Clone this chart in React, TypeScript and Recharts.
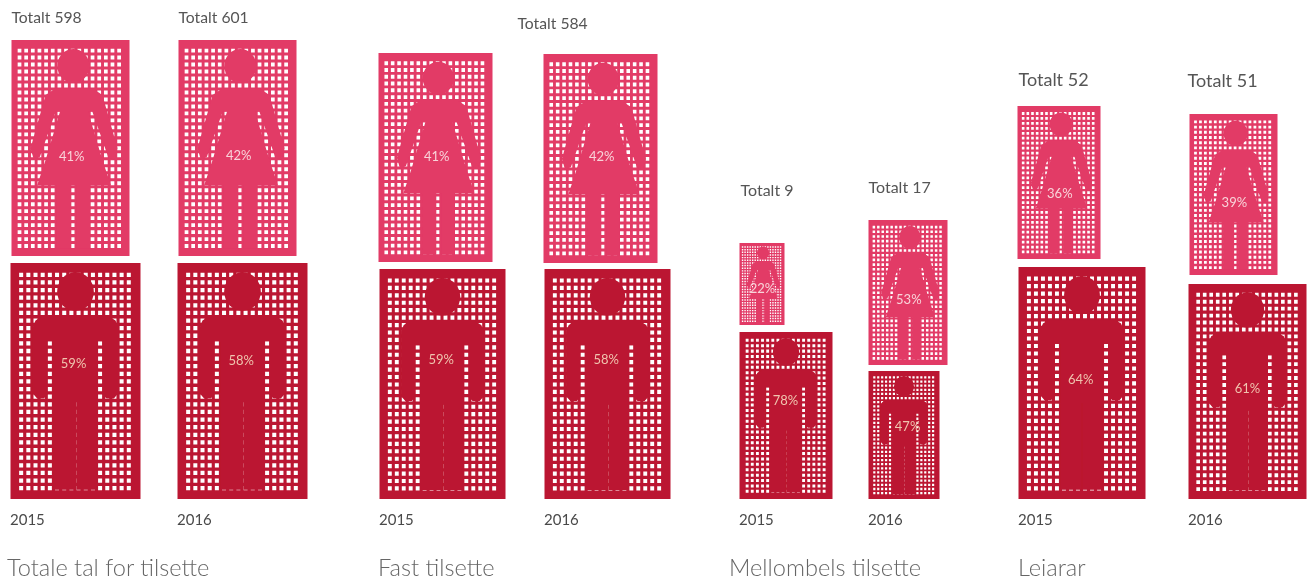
import { Bar, BarChart, XAxis, YAxis } from "recharts";

const FONT = "Lato, sans-serif";
const WOMAN_COLOR = "#e23a66";
const MAN_COLOR = "#bb1530";

// one entry per column
const groupTitles = ["Totale tal for tilsette", "Fast tilsette", "Mellombels tilsette", "Leiarar"];
const years = [2015, 2016, 2015, 2016, 2015, 2016, 2015, 2016];
const totals = [598, 601, null, 584, 9, 17, 52, 51];
const womenShare = [41, 42, 41, 42, 22, 53, 36, 39];
const menShare = [59, 58, 59, 58, 78, 47, 64, 61];
// size of the figures in the picture
const menHeight = [236, 236, 230, 230, 167, 128, 232, 215];
const womenHeight = [216, 216, 209, 209, 82, 145, 153, 161];
const stackGap = [7, 7, 7, 6, 7, 6, 8, 9];
const menWidth = [130, 130, 126, 126, 93, 71, 127, 118];
const womenWidth = [118, 118, 114, 114, 45, 79, 83, 88];

// layout
const columnLeft = [10, 177, 379, 544, 739, 868, 1018, 1188];
const womenShift = [1, 1, -1, -1, 0, 0, -1, 1];
const titleLeft = [7, 378, 729, 1018];
const womenLabelAt = [0.545, 0.54, 0.5, 0.495, 0.57, 0.56, 0.58, 0.56];
const menLabelAt = [0.43, 0.42, 0.4, 0.4, 0.42, 0.44, 0.49, 0.49];
const menLabelX = [0.485, 0.49, 0.49, 0.49, 0.495, 0.55, 0.49, 0.5];
const totalLift = [22, 22, 0, 30, 52, 32, 25, 32];
const totalShift = [0, 0, 0, -26, 1, 0, 1, -2];
const totalSize = [15.7, 15.7, 15.7, 15.7, 16, 16, 18, 18];

const chartData = years.map((year, i) => ({
  column: columnLeft[i],
  year,
  total: totals[i],
  women: womenHeight[i],
  men: menHeight[i],
  gap: stackGap[i],
}));

type Pt = [number, number];

// outlines
const womanBox = { ox: 33, oy: 120, w: 353, h: 648 };
const womanHead = { cx: 218, cy: 198, rx: 48, ry: 51 };
const womanBody: Pt[] = [
  [165, 265], [275, 265], [305, 285], [350, 445], [340, 480], [322, 470], [275, 335],
  [262, 335], [305, 480], [330, 555], [268, 555], [268, 745], [228, 745], [228, 555],
  [212, 555], [212, 745], [168, 745], [168, 555], [110, 555], [135, 480], [178, 335],
  [165, 335], [118, 470], [100, 480], [90, 445], [135, 285],
];

const manBox = { ox: 30, oy: 22, w: 390, h: 711 };
const manHead = { cx: 225, cy: 108, rx: 55, ry: 58 };
const manBody: Pt[] = [
  [122, 185], [328, 185], [345, 195], [353, 215], [353, 415], [340, 430], [318, 430], [306, 418],
  [306, 258], [288, 258], [288, 705], [228, 705], [228, 440], [224, 440], [224, 705], [160, 705],
  [160, 258], [140, 258], [140, 418], [130, 430], [110, 430], [97, 415], [97, 215], [105, 195],
];

const dotGrid = (x: number, y: number, w: number, h: number, fx: number[], fy: number[]) => {
  const cols = 16;
  const rows = 29;
  const stepX = ((fx[1] - fx[0]) * w) / (cols - 1);
  const stepY = ((fy[1] - fy[0]) * h) / (rows - 1);
  const dw = stepX * 0.56;
  const dh = stepY * 0.56;
  let d = "";
  for (let c = 0; c < cols; c++) {
    for (let r = 0; r < rows; r++) {
      const px = x + fx[0] * w + c * stepX - dw / 2;
      const py = y + fy[0] * h + r * stepY - dh / 2;
      d += `M${px.toFixed(2)} ${py.toFixed(2)}h${dw.toFixed(2)}v${dh.toFixed(2)}h${(-dw).toFixed(2)}z`;
    }
  }
  return d;
};

const Figure = ({ x, y, w, h, color, box, head, body, fx, fy, label, labelX, labelAt, labelColor }: any) => {
  const sx = w / box.w;
  const sy = h / box.h;
  const outline =
    body
      .map((p: Pt, i: number) => `${i ? "L" : "M"}${x + (p[0] - box.ox) * sx} ${y + (p[1] - box.oy) * sy}`)
      .join("") + "z";
  return (
    <g>
      <g filter="url(#soft)">
        <rect x={x} y={y} width={w} height={h} fill={color} />
        <path d={dotGrid(x, y, w, h, fx, fy)} fill="#fff" />
        <ellipse
          cx={x + (head.cx - box.ox) * sx}
          cy={y + (head.cy - box.oy) * sy}
          rx={head.rx * sx}
          ry={head.ry * sy}
          fill={color}
        />
        <path d={outline} fill={color} />
      </g>
      <text
        x={x + w * labelX}
        y={y + h * labelAt}
        textAnchor="middle"
        dominantBaseline="middle"
        fontFamily={FONT}
        fontSize={13}
        fill={labelColor}
        filter="url(#softText)"
      >
        {label}%
      </text>
    </g>
  );
};

const WomanBar = (props: any) => {
  const { x, y, width, height, index } = props;
  const left = x + width / 2 + womenShift[index];
  const total = totals[index];
  return (
    <g>
      <Figure
        x={left}
        y={y}
        w={womenWidth[index]}
        h={height}
        color={WOMAN_COLOR}
        box={womanBox}
        head={womanHead}
        body={womanBody}
        fx={[0.068, 0.912]}
        fy={[0.049, 0.954]}
        label={womenShare[index]}
        labelX={0.51}
        labelAt={womenLabelAt[index]}
        labelColor="#f9d3d9"
      />
      {total !== null && (
        <text
          x={left + totalShift[index]}
          y={y - totalLift[index] + 5}
          fontFamily={FONT}
          fontSize={totalSize[index]}
          fill="#555"
          filter="url(#softText)"
        >
          Totalt {total}
        </text>
      )}
    </g>
  );
};

const ManBar = (props: any) => {
  const { x, y, width, height, index } = props;
  return (
    <Figure
      x={x + width / 2}
      y={y}
      w={menWidth[index]}
      h={height}
      color={MAN_COLOR}
      box={manBox}
      head={manHead}
      body={manBody}
      fx={[0.082, 0.91]}
      fy={[0.05, 0.954]}
      label={menShare[index]}
      labelX={menLabelX[index]}
      labelAt={menLabelAt[index]}
      labelColor="#f0c4ae"
    />
  );
};

const YearTick = ({ x, y, payload }: any) => (
  <text x={x} y={y + 18} fontFamily={FONT} fontSize={15} fill="#4a4a4a" filter="url(#softText)">
    {years[columnLeft.indexOf(payload.value)]}
  </text>
);

const TitleTick = ({ x, y, payload }: any) => (
  <text x={x} y={y + 27} fontFamily={FONT} fontWeight={300} fontSize={23.6} fill="#666" filter="url(#softText)">
    {groupTitles[titleLeft.indexOf(payload.value)]}
  </text>
);

export default function App() {
  return (
    <div style={{ position: "absolute", left: 0, top: 0, width: 1313, height: 581, overflow: "hidden" }}>
      <BarChart width={1313} height={581} data={chartData} margin={{ top: 0, right: 0, bottom: 0, left: 0 }} barSize={2}>
        <defs>
          <filter id="soft" x="-2%" y="-2%" width="104%" height="104%">
            <feGaussianBlur stdDeviation="0.7" />
          </filter>
          <filter id="softText" x="-5%" y="-20%" width="110%" height="140%">
            <feGaussianBlur stdDeviation="0.35" />
          </filter>
        </defs>
        <XAxis
          xAxisId="bars"
          type="number"
          dataKey="column"
          domain={[0, 1313]}
          ticks={columnLeft}
          interval={0}
          height={42}
          tickLine={false}
          axisLine={false}
          tick={YearTick}
        />
        <XAxis
          xAxisId="titles"
          type="number"
          dataKey="column"
          domain={[0, 1313]}
          ticks={titleLeft}
          interval={0}
          height={40}
          tickLine={false}
          axisLine={false}
          tick={TitleTick}
        />
        <YAxis hide type="number" domain={[0, 499]} />
        <Bar xAxisId="bars" dataKey="men" stackId="col" isAnimationActive={false} shape={ManBar} />
        <Bar xAxisId="bars" dataKey="gap" stackId="col" isAnimationActive={false} fill="none" />
        <Bar xAxisId="bars" dataKey="women" stackId="col" isAnimationActive={false} shape={WomanBar} />
      </BarChart>
    </div>
  );
}
